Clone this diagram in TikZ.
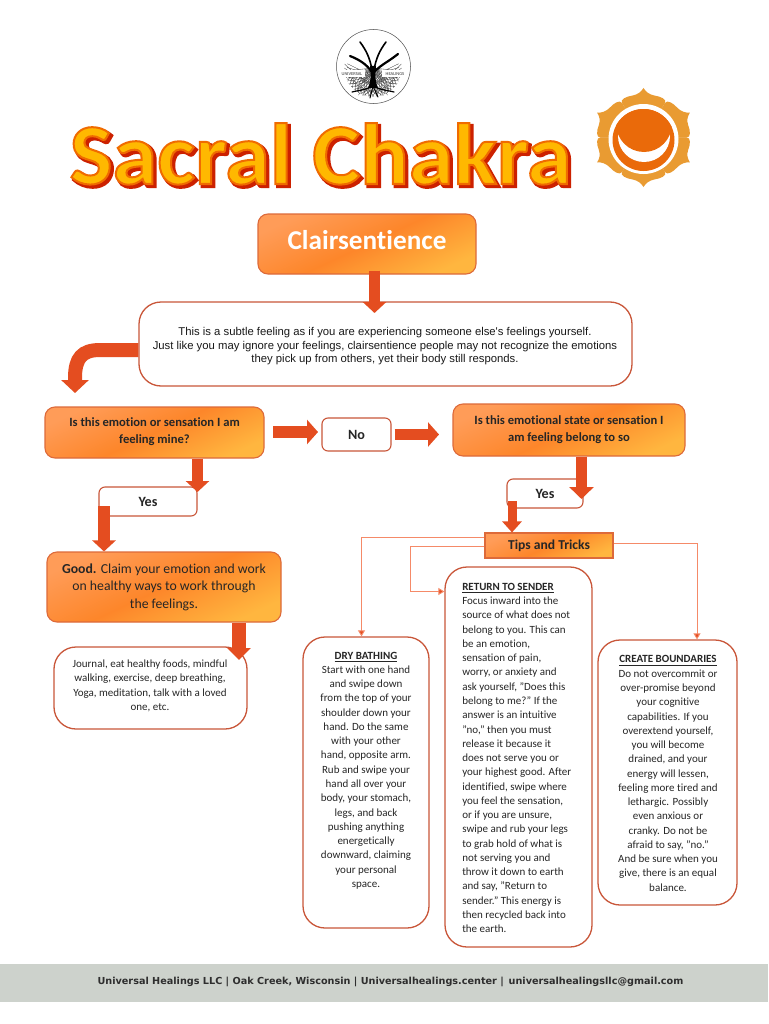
\documentclass[tikz,border=0pt]{standalone}
\usepackage{fontspec}
\usetikzlibrary{arrows.meta}
\setmainfont[Ligatures=NoCommon]{Carlito}
\newfontfamily\titlefont[Ligatures=NoCommon,FakeStretch=1.043]{Carlito}
\newfontfamily\descfont{Liberation Sans}
\newfontfamily\footfont{DejaVu Sans}
\definecolor{edge}{HTML}{C9573A}
\definecolor{gradedge}{HTML}{DD6A3A}
\definecolor{blockcol}{HTML}{E44D20}
\definecolor{thincol}{HTML}{F58A68}
\definecolor{gtop}{HTML}{FF9C58}
\definecolor{gmid}{HTML}{FD862A}
\definecolor{gbot}{HTML}{FFB63F}
\definecolor{petal}{HTML}{E99B32}
\definecolor{sun}{HTML}{EA6A0A}
\definecolor{band}{HTML}{CDD2CC}
\definecolor{foottext}{HTML}{2E2E2E}
\definecolor{bodytext}{HTML}{262626}
\def\px{0.75pt}
\tikzset{
  x=0.75pt,y=-0.75pt,
  whitebox/.style={draw=edge,fill=white,line width=1.3*\px,rounded corners=22*\px,inner sep=0pt},
  smallwhite/.style={draw=edge,fill=white,line width=1.1*\px,rounded corners=6*\px,inner sep=0pt},
  gradbox/.style={draw=gradedge,line width=1.1*\px,rounded corners=10*\px,inner sep=0pt,
     top color=gtop,bottom color=gbot,middle color=gmid,shading angle=25},
  dimsize/.style n args={2}{minimum width=#1*\px,minimum height=#2*\px},
  body/.style={font=\fontsize{8.25}{10.7}\selectfont,text=bodytext,align=center,inner sep=0pt},
  qtext/.style={font=\bfseries\fontsize{9.45}{13.2}\selectfont,text=black!85,align=center,inner sep=0pt},
  yestext/.style={font=\bfseries\fontsize{10.6}{12}\selectfont,text=black!85,inner sep=0pt},
  blockarrow/.style n args={3}{draw=blockcol,line width=#1*\px,
     -{Triangle[width=#2*\px,length=#3*\px,fill=blockcol]}},
  thinarrow/.style={draw=thincol,line width=0.9*\px,-{Triangle[width=7*\px,length=6*\px,fill=blockcol]}},
  petalshape/.style={fill=petal,draw=none},
  twig/.style={draw=black!72,line width=0.35*\px},
  limb/.style={draw=black,line cap=round},
}
\begin{document}
\begin{tikzpicture}
\useasboundingbox (0,0) rectangle (768,1024);
\fill[white] (0,0) rectangle (768,1024);

% logo
\node[draw=black!70,line width=0.5*\px,circle,minimum size=74*\px,inner sep=0pt] (logo) at (373.5,66.5) {};
\foreach \a in {6,14,...,174}{
  \draw[twig] (373,68) -- ++(\a:{25+6*sin(\a*7)}) ;
  \draw[twig] (373,68)++(\a:14) -- ++(\a+32:{13}) ;
  \draw[twig] (373,68)++(\a:14) -- ++(\a-32:{13}) ;
  \draw[twig] (373,68)++(\a:22) -- ++(\a+50:{9}) ;
  \draw[twig] (373,68)++(\a:22) -- ++(\a-50:{9}) ;
}
\foreach \a in {195,207,...,345}{
  \draw[twig] (373,84) -- ++(\a:{15+4*sin(\a*9)}) ;
  \draw[twig] (373,84)++(\a:8) -- ++(\a+35:{7}) ;
  \draw[twig] (373,84)++(\a:8) -- ++(\a-35:{7}) ;
}
\fill[black] (368,88) .. controls (371,82) and (371,76) .. (370,66) -- (376,66) .. controls (375,76) and (375,82) .. (378,88) -- cycle;
\draw[limb,line width=2.2*\px] (372,72) .. controls (366,64) and (360,60) .. (350,56);
\draw[limb,line width=2.2*\px] (374,72) .. controls (382,64) and (388,62) .. (398,54);
\draw[limb,line width=1.6*\px] (372,70) .. controls (370,58) and (366,50) .. (360,42);
\draw[limb,line width=1.6*\px] (374,70) .. controls (376,58) and (380,50) .. (386,42);
\draw[limb,line width=1.2*\px] (373,86) .. controls (366,90) and (360,90) .. (352,92);
\draw[limb,line width=1.2*\px] (373,86) .. controls (380,90) and (386,90) .. (394,92);
\draw[limb,line width=1*\px] (373,86) -- (370,98);
\draw[limb,line width=1*\px] (373,86) -- (378,97);
\fill[white] (339,70.5) rectangle (365,77.5);
\fill[white] (382,70.5) rectangle (408,77.5);
\node[font=\fontsize{3.4}{4}\selectfont,inner sep=0pt,text=black!80] (logoa) at (352,74) {UNIVERSAL};
\node[font=\fontsize{3.4}{4}\selectfont,inner sep=0pt,text=black!80] (logob) at (395,74) {HEALINGS};

% title
\node[anchor=base west,inner sep=0pt,font=\titlefont\bfseries\fontsize{65}{70}\selectfont] (titleshadow) at (72,186.5)
 {\special{pdf:code 2 Tr 2.6 w 0.80 0.13 0 RG 0.80 0.13 0 rg}Sacral Chakra\special{pdf:code 0 Tr}};
\node[anchor=base west,inner sep=0pt,font=\titlefont\bfseries\fontsize{65}{70}\selectfont,text=yellow] (title) at (69.5,184)
 {\special{pdf:code 2 Tr 1.5 w 0.94 0.42 0 RG 1 0.72 0 rg}Sacral Chakra\special{pdf:code 0 Tr}};

% chakra
\begin{scope}[shift={(643.5,137.5)},xscale=1.08]
  \foreach \r in {0,60,...,300}{
    \fill[petalshape,rotate=\r] (-20,-34.6) .. controls (-22,-38) and (-16,-41) .. (-10,-42)
       .. controls (-5,-43) and (-2,-46) .. (0,-49.5)
       .. controls (2,-46) and (5,-43) .. (10,-42)
       .. controls (16,-41) and (22,-38) .. (20,-34.6) -- (0,0) -- cycle;
  }
\end{scope}
\fill[white] (643.5,139) circle[radius=35];
\fill[sun] (643.5,140) circle[radius=31];
\begin{scope}
  \clip (643.5,140) circle[radius=31];
  \fill[white] (644,136) circle[radius=26];
  \fill[sun] (644,124.2) circle[radius=27.8];
\end{scope}

% boxes
\node[gradbox,dimsize={218}{60}] (clair) at (367,244) {};
\node[font=\bfseries\fontsize{20.4}{22}\selectfont,text=white,inner sep=0pt] (clairt) at (367,240) {Clairsentience};
\node[whitebox,dimsize={493}{84}] (desc) at (385.5,344) {};
\node[font=\descfont\fontsize{8.48}{10.1}\selectfont,align=center,inner sep=0pt,text=black!90] (desct) at (385,346.5)
 {This is a subtle feeling as if you are experiencing someone else's feelings yourself.\\
  Just like you may ignore your feelings, clairsentience people may not recognize the emotions\\
  they pick up from others, yet their body still responds.};
\node[gradbox,dimsize={219}{51}] (q1) at (154.5,432.5) {};
\node[qtext] (q1t) at (154.5,431.5) {Is this emotion or sensation I am\\feeling mine?};
\node[smallwhite,dimsize={69}{33},yestext] (no) at (356.5,434.5) {No};
\node[gradbox,dimsize={232}{52}] (q2) at (569,430) {};
\node[qtext] (q2t) at (569,429.5) {Is this emotional state or sensation I\\am feeling belong to so};
\node[smallwhite,dimsize={98}{29}] (yes1) at (148,501.5) {};
\node[yestext] (yes1t) at (148,502) {Yes};
\node[smallwhite,dimsize={76}{29}] (yes2) at (545,493.5) {};
\node[yestext] (yes2t) at (545,494) {Yes};
\node[gradbox,dimsize={234}{70}] (good) at (164,587) {};
\node[font=\fontsize{10.3}{13.2}\selectfont,align=center,text=black!85,inner sep=0pt] (goodt) at (164,587)
 {\textbf{Good.} Claim your emotion and work\\on healthy ways to work through\\the feelings.};
\node[whitebox,dimsize={193}{82}] (journal) at (150.5,688) {};
\node[body] (journalt) at (150,686)
 {Journal, eat healthy foods, mindful\\walking, exercise, deep breathing,\\Yoga, meditation, talk with a loved\\one, etc.};
\node[gradbox,rounded corners=0pt,dimsize={128}{25}] (tips) at (549,545.5) {};
\node[font=\bfseries\fontsize{10.2}{12}\selectfont,text=black!85,inner sep=0pt] (tipst) at (549,546) {Tips and Tricks};

\node[whitebox,dimsize={126}{291}] (dry) at (366,782.5) {};
\node[body] (dryt) at (366,770.5)
 {\textbf{\underline{DRY BATHING}}\\Start with one hand\\and swipe down\\from the top of your\\shoulder down your\\hand. Do the same\\with your other\\hand, opposite arm.\\Rub and swipe your\\hand all over your\\body, your stomach,\\legs, and back\\pushing anything\\energetically\\downward, claiming\\your personal\\space.};
\node[whitebox,dimsize={147}{380}] (ret) at (518.5,757) {};
\node[body,align=left,anchor=west] (rett) at (462,758)
 {\textbf{\underline{RETURN TO SENDER}}\\Focus inward into the\\source of what does not\\belong to you. This can\\be an emotion,\\sensation of pain,\\worry, or anxiety and\\ask yourself, "Does this\\belong to me?" If the\\answer is an intuitive\\"no," then you must\\release it because it\\does not serve you or\\your highest good. After\\identified, swipe where\\you feel the sensation,\\or if you are unsure,\\swipe and rub your legs\\to grab hold of what is\\not serving you and\\throw it down to earth\\and say, "Return to\\sender." This energy is\\then recycled back into\\the earth.};
\node[whitebox,dimsize={139}{265}] (create) at (667.5,772.5) {};
\node[body] (createt) at (668,773.5)
 {\textbf{\underline{CREATE BOUNDARIES}}\\Do not overcommit or\\over-promise beyond\\your cognitive\\capabilities. If you\\overextend yourself,\\you will become\\drained, and your\\energy will lessen,\\feeling more tired and\\lethargic. Possibly\\even anxious or\\cranky. Do not be\\afraid to say, "no."\\And be sure when you\\give, there is an equal\\balance.};

% block arrows
\coordinate (a1) at (374.5,313);
\draw[blockarrow={11}{23}{11}] (a1 |- clair.south) ++(0,-4) -- (a1);
\coordinate (a2s) at (desc.west |- 0,350);
\coordinate (a2) at (75,393);
\draw[blockarrow={14}{27}{13}] (a2s) -- (100,350) .. controls (82,350) and (75,358) .. (75,378) -- (a2);
\coordinate (a3s) at (273,432);
\coordinate (a3) at (318,432);
\draw[blockarrow={12}{24}{11}] (a3s) -- (a3);
\coordinate (a4) at (439,434.5);
\draw[blockarrow={11}{24}{11}] (no.east) ++(3,0) -- (a4);
\coordinate (a5) at (197.5,492);
\draw[blockarrow={11}{23}{11}] (a5 |- q1.south) -- (a5);
\coordinate (a6s) at (104,506);
\draw[blockarrow={12}{23}{11}] (a6s) -- (a6s |- good.north);
\coordinate (a7) at (239,660);
\draw[blockarrow={14}{23}{12}] (a7 |- good.south) -- (a7);
\coordinate (a8) at (581.5,499);
\draw[blockarrow={11}{24}{12}] (a8 |- q2.south) -- (a8);
\coordinate (a9s) at (512,501);
\draw[blockarrow={9}{19}{11}] (a9s) -- (a9s |- tips.north);

% thin arrows
\coordinate (t1) at (361.5,537);
\draw[thinarrow] (t1 -| tips.west) -- (t1) -- (t1 |- dry.north);
\coordinate (t2) at (410,546);
\draw[thinarrow] (t2 -| tips.west) -- (t2) -- (410,591.5) -- (ret.west |- 0,591.5);
\coordinate (t3) at (697,543);
\draw[thinarrow] (t3 -| tips.east) -- (t3) -- (t3 |- create.north);

% footer
\fill[band] (0,964) rectangle (768,1002);
\node[font=\footfont\bfseries\fontsize{7.25}{9}\selectfont,text=foottext,inner sep=0pt] (foot) at (390.5,982)
 {Universal Healings LLC | Oak Creek, Wisconsin | Universalhealings.center |\enspace universalhealingsllc@gmail.com};
\end{tikzpicture}
\end{document}
